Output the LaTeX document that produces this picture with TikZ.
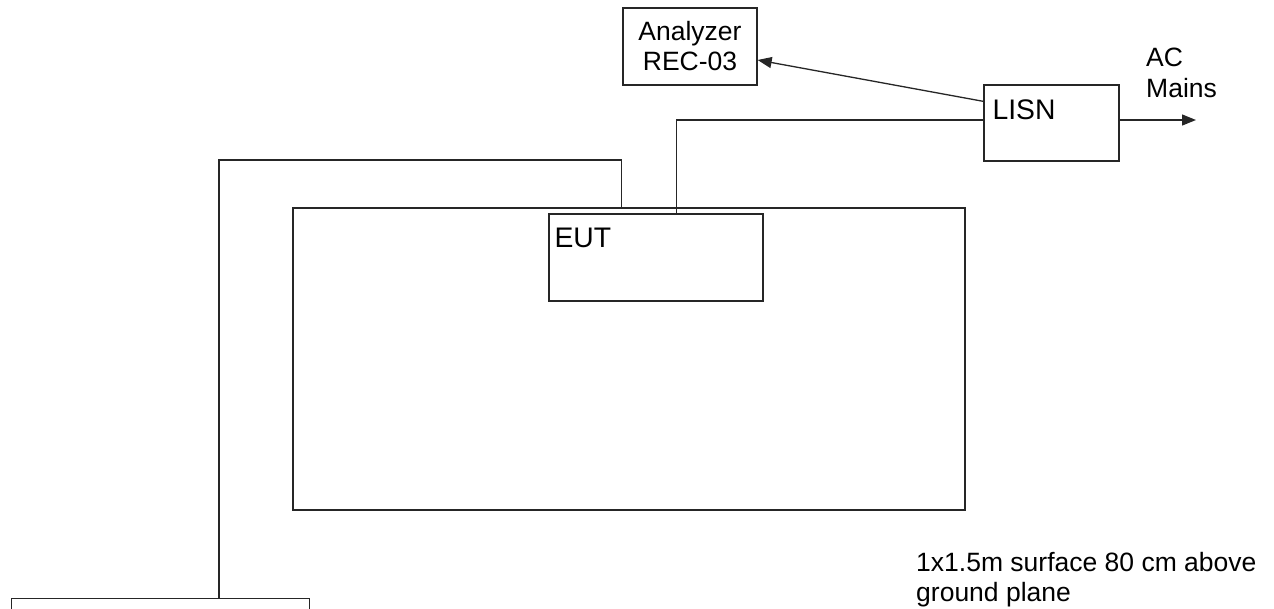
\documentclass[tikz,border=0pt]{standalone}
\usepackage{fontspec}
\setmainfont{Liberation Sans}
\usetikzlibrary{arrows.meta,calc}
\begin{document}
\begin{tikzpicture}[x=1pt,y=-1pt,
  wire/.style={line width=1.3pt, draw=black!85},
  boxnode/.style={draw=black!85, line width=1.3pt, inner sep=0pt, rectangle},
  txt/.style={inner sep=0pt, anchor=base west, font=\fontsize{26.5}{30.5}\selectfont},
  bigtxt/.style={inner sep=0pt, anchor=base west, font=\fontsize{28.3}{32}\selectfont},
  tip/.style={-{Triangle[length=14pt,width=11pt]}}
]
\clip (0,0) rectangle (1274,608);
\fill[white] (0,0) rectangle (1274,608);
% boxes
\node[boxnode, minimum width=134, minimum height=77, align=center,
      font=\fontsize{26.5}{30}\selectfont] (ana) at (690,46.5) {Analyzer\\REC-03};
\node[boxnode, minimum width=135, minimum height=76] (lisn) at (1051.5,123) {};
\node[boxnode, minimum width=672, minimum height=302] (tab) at (629,359) {};
\node[boxnode, minimum width=214, minimum height=87] (eut) at (656,257.5) {};
\node[boxnode, minimum width=298, minimum height=80, anchor=north west] (gen) at (11,598) {};
% labels
\node[bigtxt] (lisnlbl) at ($(lisn.north west)+(9,35)$) {LISN};
\node[bigtxt] (eutlbl) at ($(eut.north west)+(6,34)$) {EUT};
\node[txt] (aclbl) at (1146,66) {AC};
\node[txt] (mainslbl) at (1146,97) {Mains};
\node[txt] (surf1) at (916,571) {1x1.5m surface 80 cm above};
\node[txt] (surf2) at (916,601) {ground plane};
% connectors
\coordinate (mains) at (1196,120);
\coordinate (bend) at (219,160);
\draw[wire, tip] ($(lisn.east)+(0,-3)$) -- (mains);
\draw[wire, tip] ($(lisn.north west)+(0,17)$) -- ($(ana.east)+(0,13.5)$);
\draw[wire] ($(lisn.west)+(0,-3)$) -| ($(eut.north west)+(128,0)$);
\draw[wire] ($(tab.north west)+(329,0)$) |- (bend) -- (bend |- gen.north);
\end{tikzpicture}
\end{document}
